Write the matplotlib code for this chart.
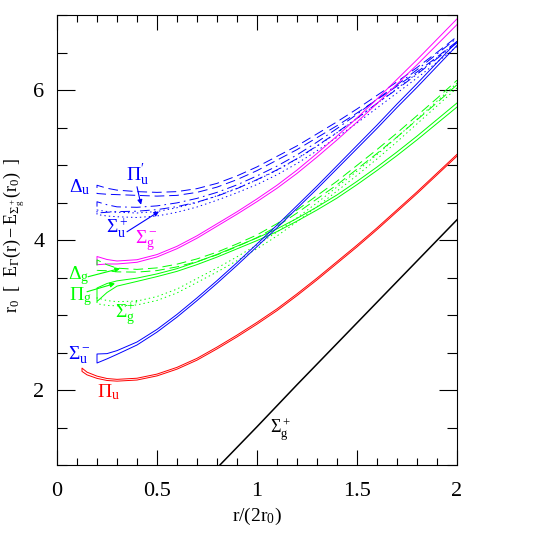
'''Gluon excitation levels of the static quark-antiquark potential'''

import numpy as np
import matplotlib
matplotlib.use('Agg')
import matplotlib.pyplot as plt

plt.rcParams['font.family'] = 'serif'
plt.rcParams['font.serif'] = ['Liberation Serif']
plt.rcParams['mathtext.fontset'] = 'stix'
plt.rcParams['mathtext.default'] = 'regular'
plt.rcParams['lines.scale_dashes'] = False

# r/(2r0) grid used by most levels
x_grid = [0.2, 0.25, 0.3, 0.4, 0.5, 0.6, 0.7, 0.8, 0.9, 1.0,
          1.1, 1.2, 1.3, 1.4, 1.5, 1.6, 1.7, 1.8, 1.9, 2.0]

# blue levels
sigma_u_minus = [2.42, 2.45, 2.50, 2.62, 2.79, 2.99, 3.21, 3.44, 3.68, 3.93,
                 4.18, 4.44, 4.70, 4.97, 5.24, 5.51, 5.79, 6.06, 6.34, 6.62]
sigma_u_minus_err = [0.06, 0.035, 0.025, 0.02, 0.018, 0.018, 0.018, 0.018, 0.018, 0.018,
                     0.018, 0.018, 0.019, 0.02, 0.021, 0.022, 0.023, 0.024, 0.025, 0.026]
delta_u = [4.675, 4.65, 4.635, 4.62, 4.61, 4.62, 4.66, 4.73, 4.83, 4.95,
           5.09, 5.23, 5.39, 5.55, 5.72, 5.90, 6.08, 6.27, 6.47, 6.68]
delta_u_err = [0.055, 0.04, 0.03, 0.025, 0.025, 0.025, 0.025, 0.025, 0.025, 0.025,
               0.025, 0.025, 0.025, 0.026, 0.027, 0.028, 0.029, 0.03, 0.031, 0.032]
pi_u_prime = [4.435, 4.42, 4.41, 4.41, 4.43, 4.47, 4.53, 4.61, 4.71, 4.83,
              4.96, 5.11, 5.28, 5.46, 5.65, 5.85, 6.04, 6.24, 6.45, 6.66]
pi_u_prime_err = [0.075, 0.05, 0.032, 0.026, 0.025, 0.025, 0.025, 0.025, 0.025, 0.025,
                  0.025, 0.025, 0.025, 0.026, 0.027, 0.028, 0.029, 0.03, 0.031, 0.032]
sigma_u_plus = [4.37, 4.35, 4.34, 4.33, 4.35, 4.40, 4.47, 4.56, 4.66, 4.77,
                4.90, 5.05, 5.22, 5.40, 5.59, 5.79, 5.99, 6.19, 6.40, 6.61]
sigma_u_plus_err = [0.03, 0.03, 0.03, 0.03, 0.03, 0.03, 0.03, 0.03, 0.03, 0.03,
                    0.03, 0.03, 0.03, 0.03, 0.03, 0.03, 0.03, 0.03, 0.03, 0.03]

# magenta level
sigma_g_minus = [3.725, 3.71, 3.70, 3.72, 3.79, 3.90, 4.04, 4.20, 4.36, 4.53,
                 4.71, 4.91, 5.13, 5.36, 5.60, 5.85, 6.11, 6.37, 6.64, 6.91]
sigma_g_minus_err = [0.055, 0.03, 0.02, 0.017, 0.016, 0.016, 0.016, 0.016, 0.016, 0.018,
                     0.02, 0.022, 0.024, 0.026, 0.028, 0.03, 0.032, 0.034, 0.036, 0.038]

# green levels
delta_g = [3.665, 3.63, 3.60, 3.59, 3.61, 3.66, 3.73, 3.82, 3.93, 4.05,
           4.20, 4.38, 4.57, 4.76, 4.97, 5.18, 5.40, 5.63, 5.86, 6.10]
delta_g_err = [0.07, 0.04, 0.025, 0.018, 0.018, 0.018, 0.018, 0.018, 0.018, 0.018,
               0.018, 0.02, 0.022, 0.024, 0.025, 0.026, 0.027, 0.028, 0.029, 0.03]
pi_g = [3.27, 3.36, 3.42, 3.47, 3.53, 3.60, 3.69, 3.79, 3.90, 4.01,
        4.13, 4.27, 4.42, 4.58, 4.76, 4.95, 5.15, 5.36, 5.58, 5.80]
pi_g_err = [0.09, 0.06, 0.035, 0.022, 0.018, 0.018, 0.018, 0.018, 0.018, 0.018,
            0.018, 0.018, 0.02, 0.021, 0.022, 0.023, 0.024, 0.025, 0.026, 0.027]
sigma_g_plus_prime = [3.19, 3.16, 3.15, 3.16, 3.22, 3.32, 3.46, 3.60, 3.75, 3.91,
                      4.08, 4.27, 4.47, 4.68, 4.89, 5.11, 5.34, 5.58, 5.82, 6.06]
sigma_g_plus_prime_err = [0.04, 0.032, 0.028, 0.026, 0.026, 0.026, 0.026, 0.026, 0.026, 0.026,
                          0.026, 0.026, 0.026, 0.027, 0.028, 0.029, 0.03, 0.031, 0.032, 0.033]

# red level has its own grid
pi_u_x = [0.125, 0.15, 0.2, 0.25, 0.3, 0.4, 0.5, 0.6, 0.7, 0.8, 0.9,
          1.0, 1.1, 1.2, 1.3, 1.4, 1.5, 1.6, 1.7, 1.8, 1.9, 2.0]
pi_u = [2.27, 2.22, 2.17, 2.14, 2.13, 2.145, 2.20, 2.29, 2.41, 2.56, 2.72,
        2.89, 3.07, 3.27, 3.48, 3.70, 3.92, 4.15, 4.39, 4.63, 4.88, 5.13]
pi_u_err = [0.022, 0.018, 0.015, 0.013, 0.012, 0.012, 0.012, 0.012, 0.012, 0.012, 0.012,
            0.012, 0.012, 0.012, 0.012, 0.012, 0.012, 0.012, 0.012, 0.012, 0.012, 0.012]

# ground state (black)
sigma_g_plus_x = [0.8, 1.0, 1.2, 1.4, 1.6, 1.8, 2.0]
sigma_g_plus = [0.96, 1.51, 2.07, 2.62, 3.17, 3.72, 4.27]

DASHED = (0, (7, 3.5))
DASHDOT = (0, (7, 3, 1.2, 3))
DOTTED = (0, (1, 2.2))


def band(ax, x, y, err, color, ls='-'):
    '''Draws an open band outline: lower edge, left cap, upper edge'''
    x = np.asarray(x)
    y = np.asarray(y)
    err = np.asarray(err)
    xs = np.concatenate([x[::-1], x])
    ys = np.concatenate([(y - err)[::-1], y + err])
    ax.plot(xs, ys, color=color, lw=0.7, ls=ls)


fig = plt.figure(figsize=(5.4, 5.34), dpi=100)
ax = fig.add_axes([57 / 540, 69 / 534, 400 / 540, 450 / 534])

# bands
band(ax, x_grid, delta_u, delta_u_err, 'blue', DASHED)
band(ax, x_grid, pi_u_prime, pi_u_prime_err, 'blue', DASHDOT)
band(ax, x_grid, sigma_u_plus, sigma_u_plus_err, 'blue', DOTTED)
band(ax, x_grid, sigma_g_minus, sigma_g_minus_err, 'magenta')
band(ax, x_grid, delta_g, delta_g_err, 'lime', DASHED)
band(ax, x_grid, sigma_g_plus_prime, sigma_g_plus_prime_err, 'lime', DOTTED)
band(ax, x_grid, pi_g, pi_g_err, 'lime')
band(ax, x_grid, sigma_u_minus, sigma_u_minus_err, 'blue')
band(ax, pi_u_x, pi_u, pi_u_err, 'red')
ax.plot(sigma_g_plus_x, sigma_g_plus, color='black', lw=1.1)

# level labels
fs = 14
ax.text(0.115, 4.71, r'$\Delta_u$', color='blue', fontsize=fs, ha='center', va='center')
ax.text(0.40, 4.86, r"$\Pi_u'$", color='blue', fontsize=fs, ha='center', va='center')
ax.text(0.30, 4.16, r'$\Sigma_u^+$', color='blue', fontsize=fs, ha='center', va='center')
ax.text(0.445, 3.99, r'$\Sigma_g^-$', color='magenta', fontsize=fs, ha='center', va='center')
ax.text(0.11, 3.52, r'$\Delta_g$', color='lime', fontsize=fs, ha='center', va='center')
ax.text(0.115, 3.24, r'$\Pi_g$', color='lime', fontsize=fs, ha='center', va='center')
ax.text(0.35, 3.02, r"$\Sigma_g^{+\prime}$", color='lime', fontsize=fs, ha='center', va='center')
ax.text(0.11, 2.47, r'$\Sigma_u^-$', color='blue', fontsize=fs, ha='center', va='center')
ax.text(0.255, 1.97, r'$\Pi_u$', color='red', fontsize=fs, ha='center', va='center')
ax.text(1.115, 1.47, r'$\Sigma_g^+$', color='black', fontsize=fs - 1, ha='center', va='center')

# pointer arrows
arr = dict(arrowstyle='-|>', lw=0.8, mutation_scale=7, shrinkA=0, shrinkB=0)
ax.annotate('', xy=(0.42, 4.47), xytext=(0.40, 4.71), arrowprops=dict(arr, color='blue'))
ax.annotate('', xy=(0.51, 4.38), xytext=(0.35, 4.11), arrowprops=dict(arr, color='blue'))
ax.annotate('', xy=(0.315, 3.62), xytext=(0.155, 3.51), arrowprops=dict(arr, color='lime'))
ax.annotate('', xy=(0.29, 3.42), xytext=(0.15, 3.31), arrowprops=dict(arr, color='lime'))

# axes
ax.set_xlim(0, 2)
ax.set_ylim(1, 7)
ax.set_xticks([0, 0.5, 1, 1.5, 2])
ax.set_xticklabels(['0', '0.5', '1', '1.5', '2'])
ax.set_xticks(np.arange(0, 2.01, 0.1), minor=True)
ax.set_yticks([2, 4, 6])
ax.set_yticks(np.arange(1, 7.01, 0.5), minor=True)
ax.tick_params(which='both', direction='in', top=True, right=True, width=0.8, labelsize=16)
ax.tick_params(axis='x', which='major', length=11, pad=12)
ax.tick_params(axis='x', which='minor', length=5)
ax.tick_params(axis='y', which='major', length=13, pad=9)
ax.tick_params(axis='y', which='minor', length=7)
for s in ax.spines.values():
    s.set_linewidth(0.8)

ax.set_xlabel(r'$r/(2r_0)$', fontsize=14, labelpad=4)
ax.set_ylabel(r'$r_0\ \ [\ \ E_\Gamma(r) - E_{\Sigma_g^+}(r_0)\ \ ]$', fontsize=13)
ax.yaxis.set_label_coords(-0.074, 0.51)

fig.savefig('out.png', dpi=100)
